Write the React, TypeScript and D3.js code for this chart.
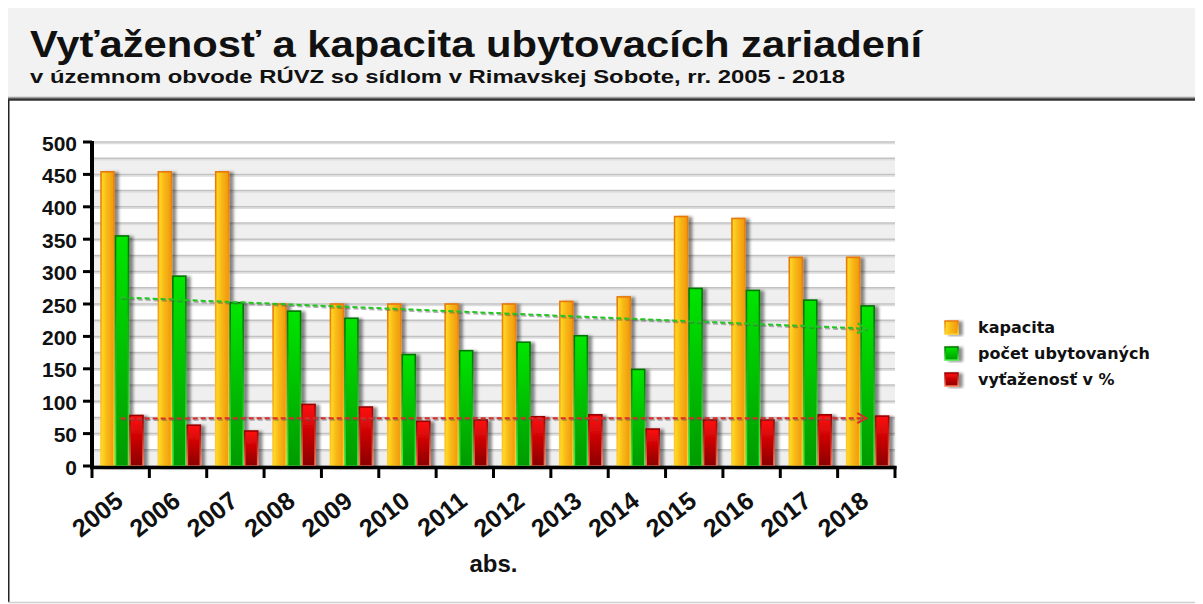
import React, { useEffect, useRef } from "react";
import * as d3 from "d3";

const years = ["2005", "2006", "2007", "2008", "2009", "2010", "2011", "2012", "2013", "2014", "2015", "2016", "2017", "2018"];
const kapacita = [454, 454, 454, 250, 250, 250, 250, 250, 254, 261, 385, 382, 322, 322];
const pocet = [355, 293, 252, 239, 228, 172, 178, 191, 201, 149, 274, 271, 256, 247];
const vytazenost = [78, 63, 54, 95, 91, 69, 71, 76, 79, 57, 71, 71, 79, 77];
const seriesNames = ["kapacita", "počet ubytovaných", "vyťaženosť v %"];
const yTicks = [0, 50, 100, 150, 200, 250, 300, 350, 400, 450, 500];

const title = "Vyťaženosť a kapacita ubytovacích zariadení";
const subtitle = "v územnom obvode RÚVZ so sídlom v Rimavskej Sobote, rr. 2005 - 2018";
const axisTitle = "abs.";

// linear trend (least squares) over the category index
const trend = (vals: number[]) => {
  const n = vals.length;
  const mx = (n - 1) / 2;
  const my = d3.mean(vals) as number;
  let sxy = 0, sxx = 0;
  vals.forEach((v, i) => { sxy += (i - mx) * (v - my); sxx += (i - mx) * (i - mx); });
  const b = sxy / sxx;
  return [my - b * mx, my + b * (n - 1 - mx)];
};

const App = () => {
  const svgRef = useRef<SVGSVGElement>(null);

  useEffect(() => {
    const width = 1195;
    const height = 596;
    const left = 84, right = 887, top = 134, bottom = 458;

    const svg = d3.select(svgRef.current);
    svg.selectAll("*").remove();

    const defs = svg.append("defs");
    const grad = (id: string, stops: [number, string][], horizontal: boolean) => {
      const g = defs.append("linearGradient").attr("id", id)
        .attr("x1", 0).attr("y1", 0).attr("x2", horizontal ? 1 : 0).attr("y2", horizontal ? 0 : 1);
      stops.forEach(([o, c]) => g.append("stop").attr("offset", o).attr("stop-color", c));
    };
    grad("fill0", [[0, "#ffdf26"], [0.45, "#f8b817"], [1, "#f0980c"]], true);
    grad("stroke0", [[0, "#e8780a"], [1, "#ffd030"]], false);
    grad("fill1", [[0, "#00e600"], [1, "#009a00"]], false);
    grad("stroke1", [[0, "#007400"], [1, "#44f044"]], false);
    grad("fill2", [[0, "#ff0a0a"], [1, "#8a0000"]], false);
    grad("stroke2", [[0, "#990000"], [1, "#ff7a5a"]], false);

    const sh = defs.append("filter").attr("id", "shadow")
      .attr("x", "-50%").attr("y", "-10%").attr("width", "200%").attr("height", "130%");
    sh.append("feDropShadow").attr("dx", 4).attr("dy", 1).attr("stdDeviation", 1.8)
      .attr("flood-color", "#000").attr("flood-opacity", 0.45);

    // frame
    svg.append("rect").attr("x", 0).attr("y", 0).attr("width", width).attr("height", 89).attr("fill", "#f2f2f2");
    svg.append("line").attr("x1", 0).attr("x2", width).attr("y1", 89.5).attr("y2", 89.5).attr("stroke", "#a0a0a0").attr("stroke-width", 1.5);
    svg.append("line").attr("x1", 0).attr("x2", width).attr("y1", 91.5).attr("y2", 91.5).attr("stroke", "#333").attr("stroke-width", 2.5);
    svg.append("line").attr("x1", 0.75).attr("x2", 0.75).attr("y1", 92).attr("y2", 594).attr("stroke", "#222").attr("stroke-width", 1.5);
    svg.append("line").attr("x1", 0).attr("x2", width).attr("y1", 594.5).attr("y2", 594.5).attr("stroke", "#cfcfcf").attr("stroke-width", 1.5);

    svg.append("text").attr("x", 22).attr("y", 49).attr("font-size", 37).attr("font-weight", "bold").attr("fill", "#111")
      .attr("textLength", 892).attr("lengthAdjust", "spacingAndGlyphs").text(title);
    svg.append("text").attr("x", 22).attr("y", 75).attr("font-size", 19).attr("font-weight", "bold").attr("fill", "#111")
      .attr("textLength", 815).attr("lengthAdjust", "spacingAndGlyphs").text(subtitle);

    const y = d3.scaleLinear().domain([0, 500]).range([bottom, top]);
    const x0 = d3.scaleBand().domain(years).range([left, right]).padding(0);
    const x1 = d3.scaleBand().domain(["0", "1", "2"]).range([9, 51]).paddingInner(0.1).paddingOuter(0);

    // grid bands + lines
    const grid = svg.append("g");
    d3.range(0, 500, 50).forEach((v) => {
      grid.append("rect").attr("x", left).attr("width", right - left)
        .attr("y", y(v + 25)).attr("height", y(v) - y(v + 25)).attr("fill", "#efefef");
    });
    d3.range(0, 525, 25).forEach((v) => {
      grid.append("line").attr("x1", left).attr("x2", right).attr("y1", y(v) + 1.5).attr("y2", y(v) + 1.5)
        .attr("stroke", "#dedede").attr("stroke-width", 1.5);
      grid.append("line").attr("x1", left).attr("x2", right).attr("y1", y(v)).attr("y2", y(v))
        .attr("stroke", "#c2c2c2").attr("stroke-width", 1.5);
    });

    // bars
    const series = [kapacita, pocet, vytazenost];
    const bars = svg.append("g").attr("filter", "url(#shadow)");
    years.forEach((yr, i) => {
      series.forEach((s, k) => {
        bars.append("rect")
          .attr("x", (x0(yr) as number) + (x1(String(k)) as number))
          .attr("y", y(s[i]))
          .attr("width", x1.bandwidth())
          .attr("height", y(0) - y(s[i]))
          .attr("fill", `url(#fill${k})`)
          .attr("stroke", `url(#stroke${k})`)
          .attr("stroke-width", 1.6);
      });
    });

    // trend arrows
    const drawTrend = (vals: number[], color: string) => {
      const [a, b] = trend(vals);
      const xa = (x0(years[0]) as number) + x0.bandwidth() / 2;
      const xb = (x0(years[years.length - 1]) as number) + x0.bandwidth() / 2;
      const g = svg.append("g");
      g.append("line").attr("x1", xa + 1).attr("y1", y(a) + 1.5).attr("x2", xb + 1).attr("y2", y(b) + 1.5)
        .attr("stroke", "#555").attr("stroke-opacity", 0.45).attr("stroke-width", 2).attr("stroke-dasharray", "5,3");
      g.append("line").attr("x1", xa).attr("y1", y(a)).attr("x2", xb).attr("y2", y(b))
        .attr("stroke", color).attr("stroke-width", 2).attr("stroke-dasharray", "5,3");
      const ang = Math.atan2(y(b) - y(a), xb - xa) * 180 / Math.PI;
      g.append("path").attr("d", "M-9,-5L0,0L-9,5")
        .attr("transform", `translate(${xb},${y(b)}) rotate(${ang})`)
        .attr("fill", "none").attr("stroke", color).attr("stroke-width", 2);
    };
    drawTrend(pocet, "#22c422");
    drawTrend(vytazenost, "#dd2a2a");

    // axes
    const ax = svg.append("g").attr("font-size", 21).attr("font-weight", "bold").attr("fill", "#111");
    yTicks.forEach((t) => {
      ax.append("line").attr("x1", left - 9).attr("x2", left).attr("y1", y(t)).attr("y2", y(t))
        .attr("stroke", "#000").attr("stroke-width", 3);
      ax.append("text").attr("x", left - 15).attr("y", y(t) + 3).attr("text-anchor", "end")
        .attr("dominant-baseline", "middle").text(t);
    });
    ax.append("line").attr("x1", left).attr("x2", left).attr("y1", top - 1).attr("y2", bottom + 3)
      .attr("stroke", "#000").attr("stroke-width", 4);
    ax.append("line").attr("x1", left - 2).attr("x2", right + 1.5).attr("y1", bottom + 1.5).attr("y2", bottom + 1.5)
      .attr("stroke", "#000").attr("stroke-width", 3.5);
    [...years.map((yr) => x0(yr) as number), right].forEach((tx) => {
      ax.append("line").attr("x1", tx).attr("x2", tx).attr("y1", bottom).attr("y2", bottom + 12)
        .attr("stroke", "#000").attr("stroke-width", 3);
    });
    years.forEach((yr) => {
      const cx = (x0(yr) as number) + x0.bandwidth() / 2 + 4;
      ax.append("text").attr("transform", `translate(${cx},496) rotate(-38)`)
        .attr("text-anchor", "end").attr("font-size", 25).text(yr);
    });
    ax.append("text").attr("x", (left + right) / 2 + 0).attr("y", 564).attr("text-anchor", "middle")
      .attr("font-size", 24).text(axisTitle);

    // legend
    const lg = svg.append("g").attr("font-family", "'DejaVu Sans', sans-serif").attr("font-size", 16)
      .attr("font-weight", "bold").attr("fill", "#111");
    seriesNames.forEach((name, k) => {
      const cy = 320 + k * 26;
      lg.append("rect").attr("x", 937).attr("y", cy - 7).attr("width", 13).attr("height", 13)
        .attr("fill", `url(#fill${k})`).attr("stroke", `url(#stroke${k})`).attr("stroke-width", 1.5)
        .attr("filter", "url(#shadow)");
      lg.append("text").attr("x", 970).attr("y", cy).attr("dominant-baseline", "middle").text(name);
    });
  }, []);

  return (
    <svg ref={svgRef} width={1195} height={596}
      style={{ display: "block", fontFamily: "'Liberation Sans', Arial, sans-serif", background: "#fff" }} />
  );
};

export default App;
